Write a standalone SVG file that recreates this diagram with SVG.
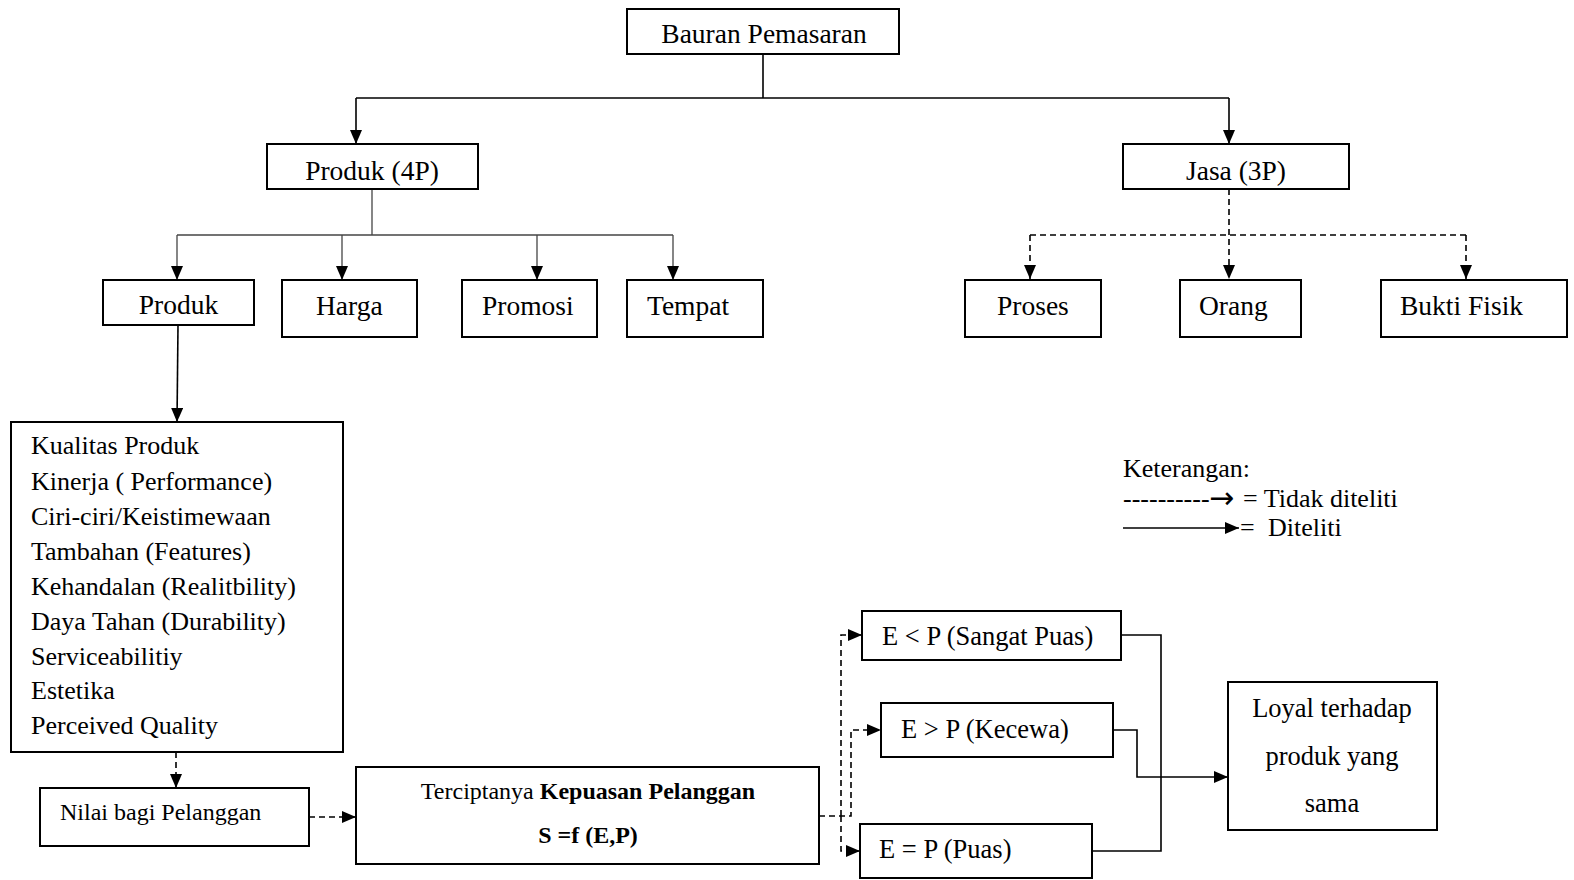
<svg xmlns="http://www.w3.org/2000/svg" width="1574" height="880" viewBox="0 0 1574 880">
<style>
.box{fill:#fff;stroke:#000;stroke-width:2}
.t{font-family:"Liberation Serif","Times New Roman",serif;fill:#000}
.t27{font-size:27.5px}
.t26{font-size:26px}
.t265{font-size:26.5px}
.t24{font-size:24px}
.c{text-anchor:middle}
.b{font-weight:bold}
.ln{fill:none;stroke:#000;stroke-width:1.6}
.thin{fill:none;stroke:#444;stroke-width:1.3}
.ds{fill:none;stroke:#000;stroke-width:1.6;stroke-dasharray:6 4}
.arr{font-family:"DejaVu Sans",sans-serif;font-size:30px}
</style>
<defs>
<marker id="ah" markerUnits="userSpaceOnUse" markerWidth="14" markerHeight="12" refX="14" refY="6" orient="auto">
<path d="M0,0 L14,6 L0,12 Z" fill="#000"/>
</marker>
</defs>
<rect width="1574" height="880" fill="#fff"/>

<g id="connectors">
<path class="ln" d="M763,54 V98"/>
<path class="ln" d="M356,98 H1229"/>
<path class="ln" d="M356,98 V144" marker-end="url(#ah)"/>
<path class="ln" d="M1229,98 V144" marker-end="url(#ah)"/>
<path class="thin" d="M372,189 V235"/>
<path class="thin" d="M177,235 H673"/>
<path class="thin" d="M177,235 V280" marker-end="url(#ah)"/>
<path class="thin" d="M342,235 V280" marker-end="url(#ah)"/>
<path class="thin" d="M537,235 V280" marker-end="url(#ah)"/>
<path class="thin" d="M673,235 V280" marker-end="url(#ah)"/>
<path class="ds" d="M1229,189 V279" marker-end="url(#ah)"/>
<path class="ds" d="M1030,235 H1466"/>
<path class="ds" d="M1030,235 V279" marker-end="url(#ah)"/>
<path class="ds" d="M1466,235 V279" marker-end="url(#ah)"/>
<path class="ln" d="M178,325 L177,422" marker-end="url(#ah)"/>
<path class="ds" d="M176,752 V788" marker-end="url(#ah)"/>
<path class="ds" d="M309,817 H356" marker-end="url(#ah)"/>
<path class="ds" d="M819,816 H851 V730 H881" marker-end="url(#ah)"/>
<path class="ds" d="M841,816 V635 H862" marker-end="url(#ah)"/>
<path class="ds" d="M841,816 V851 H860" marker-end="url(#ah)"/>
<path class="ln" d="M1121,635 H1161 V851 H1092"/>
<path class="ln" d="M1113,730 H1137 V777 H1228" marker-end="url(#ah)"/>
</g>

<g id="bauran">
<rect class="box" x="627" y="9" width="272" height="45"/>
<text class="t t27 c" x="764" y="43">Bauran Pemasaran</text>
</g>
<g id="produk4p">
<rect class="box" x="267" y="144" width="211" height="45"/>
<text class="t t27 c" x="372" y="180">Produk (4P)</text>
</g>
<g id="jasa3p">
<rect class="box" x="1123" y="144" width="226" height="45"/>
<text class="t t27 c" x="1236" y="180">Jasa (3P)</text>
</g>
<g id="produk">
<rect class="box" x="103" y="280" width="151" height="45"/>
<text class="t t27 c" x="178.5" y="314">Produk</text>
</g>
<g id="harga">
<rect class="box" x="282" y="280" width="135" height="57"/>
<text class="t t27" x="316" y="315">Harga</text>
</g>
<g id="promosi">
<rect class="box" x="462" y="280" width="135" height="57"/>
<text class="t t27" x="482" y="315">Promosi</text>
</g>
<g id="tempat">
<rect class="box" x="627" y="280" width="136" height="57"/>
<text class="t t27" x="647" y="315">Tempat</text>
</g>
<g id="proses">
<rect class="box" x="965" y="280" width="136" height="57"/>
<text class="t t27" x="997" y="315">Proses</text>
</g>
<g id="orang">
<rect class="box" x="1180" y="280" width="121" height="57"/>
<text class="t t27" x="1199" y="315">Orang</text>
</g>
<g id="buktifisik">
<rect class="box" x="1381" y="280" width="186" height="57"/>
<text class="t t27" x="1400" y="315">Bukti Fisik</text>
</g>
<g id="kualitas">
<rect class="box" x="11" y="422" width="332" height="330"/>
<text class="t t26" x="31" y="454">Kualitas Produk</text>
<text class="t t26" x="31" y="490">Kinerja ( Performance)</text>
<text class="t t26" x="31" y="525">Ciri-ciri/Keistimewaan</text>
<text class="t t26" x="31" y="560">Tambahan (Features)</text>
<text class="t t26" x="31" y="595">Kehandalan (Realitbility)</text>
<text class="t t26" x="31" y="630">Daya Tahan (Durability)</text>
<text class="t t26" x="31" y="665">Serviceabilitiy</text>
<text class="t t26" x="31" y="699">Estetika</text>
<text class="t t26" x="31" y="734">Perceived Quality</text>
</g>
<g id="nilai">
<rect class="box" x="40" y="788" width="269" height="58"/>
<text class="t t24" x="60" y="820">Nilai bagi Pelanggan</text>
</g>
<g id="kepuasan">
<rect class="box" x="356" y="767" width="463" height="97"/>
<text class="t t24 c" x="588" y="799">Terciptanya <tspan class="b">Kepuasan Pelanggan</tspan></text>
<text class="t t24 c b" x="588" y="843">S =f (E,P)</text>
</g>
<g id="sangatpuas">
<rect class="box" x="862" y="611" width="259" height="49"/>
<text class="t t265" x="882" y="645">E &lt; P (Sangat Puas)</text>
</g>
<g id="kecewa">
<rect class="box" x="881" y="703" width="232" height="54"/>
<text class="t t265" x="901" y="738">E &gt; P (Kecewa)</text>
</g>
<g id="puas">
<rect class="box" x="860" y="824" width="232" height="54"/>
<text class="t t265" x="879" y="858">E = P (Puas)</text>
</g>
<g id="loyal">
<rect class="box" x="1228" y="682" width="209" height="148"/>
<text class="t t265 c" x="1332" y="717">Loyal terhadap</text>
<text class="t t265 c" x="1332" y="765">produk yang</text>
<text class="t t265 c" x="1332" y="812">sama</text>
</g>
<g id="keterangan">
<text class="t t26" x="1123" y="477">Keterangan:</text>
<text class="t t26" x="1123" y="507">----------<tspan class="arr" x="1209" y="508">→</tspan><tspan x="1243" y="507">= Tidak diteliti</tspan></text>
<path class="ln" d="M1123,528 H1239" marker-end="url(#ah)"/>
<text class="t t26" x="1240" y="536">=<tspan x="1268">Diteliti</tspan></text>
</g>
</svg>
